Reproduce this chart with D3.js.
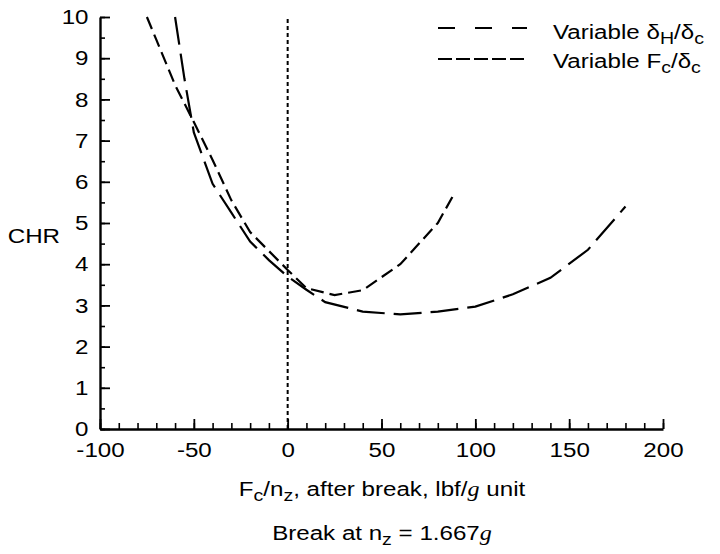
<!DOCTYPE html>
<html>
<head>
<meta charset="utf-8">
<script src="https://cdn.jsdelivr.net/npm/d3@7"></script>
<style>
  html, body { margin: 0; padding: 0; background: #fff; }
  svg text { font-family: "Liberation Sans", Arial, Helvetica, sans-serif; fill: #000; }
</style>
</head>
<body>
<svg id="chart" width="720" height="554"></svg>
<script>
// ---- data ----
const xTickValues = [-100, -50, 0, 50, 100, 150, 200];
const xMinorTicks = d3.range(-100, 201, 10);
const yTickValues = [0, 1, 2, 3, 4, 5, 6, 7, 8, 9, 10];
const yMinorTicks = d3.range(0, 10.01, 0.5);

// Variable δH/δc (long dashes)
const seriesHx = [-60, -55, -50, -40, -30, -20, -10, 0, 10, 20, 40, 60, 80, 100, 120, 140, 160, 180];
const seriesHy = [10.0, 8.5, 7.2, 5.95, 5.25, 4.55, 4.1, 3.7, 3.38, 3.08, 2.85, 2.78, 2.85, 2.97, 3.27, 3.67, 4.35, 5.4];

// Variable Fc/δc (short dashes)
const seriesFx = [-75, -70, -60, -50, -40, -30, -20, -10, 0, 10, 25, 40, 60, 80, 88];
const seriesFy = [10.0, 9.45, 8.35, 7.45, 6.53, 5.55, 4.78, 4.32, 3.86, 3.42, 3.25, 3.37, 4.0, 5.0, 5.65];

const breakX = [0];

// ---- layout ----
const FS = 21, SX = 1.15, SUB = 17;
const svg = d3.select("#chart");
const x = d3.scaleLinear().domain([-100, 200]).range([100, 663]);
const y = d3.scaleLinear().domain([0, 10]).range([429, 17]);

// minor ticks
svg.append("g")
  .attr("transform", `translate(0,${y(0)})`)
  .call(d3.axisBottom(x).tickValues(xMinorTicks).tickSize(-6).tickSizeOuter(0).tickFormat(""))
  .call(g => g.select(".domain").remove())
  .call(g => g.selectAll("line").attr("stroke", "#000").attr("stroke-width", 1.6));
svg.append("g")
  .attr("transform", `translate(${x(-100)},0)`)
  .call(d3.axisLeft(y).tickValues(yMinorTicks).tickSize(-5).tickSizeOuter(0).tickFormat(""))
  .call(g => g.select(".domain").remove())
  .call(g => g.selectAll("line").attr("stroke", "#000").attr("stroke-width", 1.6));

// major ticks + labels
svg.append("g")
  .attr("transform", `translate(0,${y(0)})`)
  .call(d3.axisBottom(x).tickValues(xTickValues).tickSize(-10).tickSizeOuter(0).tickPadding(13).tickFormat(d => d))
  .call(g => g.select(".domain").attr("stroke", "#000").attr("stroke-width", 2.4))
  .call(g => g.selectAll("line").attr("stroke", "#000").attr("stroke-width", 1.8))
  .call(g => g.selectAll("text").attr("font-size", FS).attr("font-family", null).attr("fill", "#000")
    .attr("transform", `scale(${SX},1)`));
svg.append("g")
  .attr("transform", `translate(${x(-100)},0)`)
  .call(d3.axisLeft(y).tickValues(yTickValues).tickSize(-10).tickSizeOuter(0).tickPadding(10).tickFormat(d => d))
  .call(g => g.select(".domain").attr("stroke", "#000").attr("stroke-width", 2.4))
  .call(g => g.selectAll("line").attr("stroke", "#000").attr("stroke-width", 1.8))
  .call(g => g.selectAll("text").attr("font-size", FS).attr("font-family", null).attr("fill", "#000")
    .attr("transform", `scale(${SX},1)`));

// dotted line at x = 0
svg.selectAll("line.brk").data(breakX).join("line")
  .attr("class", "brk")
  .attr("x1", d => x(d)).attr("x2", d => x(d))
  .attr("y1", y(0)).attr("y2", y(10))
  .attr("stroke", "#000").attr("stroke-width", 2)
  .attr("stroke-dasharray", "4,3");

// curves
const line = d3.line().x(d => x(d[0])).y(d => y(d[1]));
const hData = seriesHx.map((v, i) => [v, seriesHy[i]]);
const fData = seriesFx.map((v, i) => [v, seriesFy[i]]);
svg.append("path").datum(hData).attr("d", line)
  .attr("fill", "none").attr("stroke", "#000").attr("stroke-width", 2.2)
  .attr("stroke-dasharray", "28,9");
svg.append("path").datum(fData).attr("d", line)
  .attr("fill", "none").attr("stroke", "#000").attr("stroke-width", 2.2)
  .attr("stroke-dasharray", "13,6");

// helper for rich text
function richText(px, py, anchor, parts) {
  const t = svg.append("text")
    .attr("transform", `translate(${px},${py}) scale(${SX},1)`)
    .attr("text-anchor", anchor).attr("font-size", FS);
  parts.forEach(p => {
    const s = t.append("tspan").text(p.t);
    if (p.sub) s.attr("font-size", SUB).attr("dy", 5);
    if (p.up) s.attr("dy", -5);
    if (p.it) s.attr("font-family", "'Liberation Serif', 'Times New Roman', serif").attr("font-style", "italic");
  });
  return t;
}

// y axis title
richText(60, 243, "end", [{t: "CHR"}]);

// x axis titles
richText(382, 496, "middle", [{t: "F"}, {t: "c", sub: true}, {t: "/n", up: true}, {t: "z", sub: true}, {t: ", after break, lbf/", up: true}, {t: "g", it: true}, {t: " unit"}]);
richText(382, 540, "middle", [{t: "Break at n"}, {t: "z", sub: true}, {t: " = 1.667", up: true}, {t: "g", it: true}]);

// legend
const legendRows = [
  {dash: "17,20", y: 28, ty: 39, parts: [{t: "Variable  δ"}, {t: "H", sub: true}, {t: "/δ", up: true}, {t: "c", sub: true}]},
  {dash: "14,4", y: 59, ty: 68, parts: [{t: "Variable  F"}, {t: "c", sub: true}, {t: "/δ", up: true}, {t: "c", sub: true}]}
];
legendRows.forEach(r => {
  svg.append("line").attr("x1", 438).attr("x2", 527).attr("y1", r.y).attr("y2", r.y)
    .attr("stroke", "#000").attr("stroke-width", 2.2).attr("stroke-dasharray", r.dash);
  richText(553, r.ty, "start", r.parts);
});
</script>
</body>
</html>
